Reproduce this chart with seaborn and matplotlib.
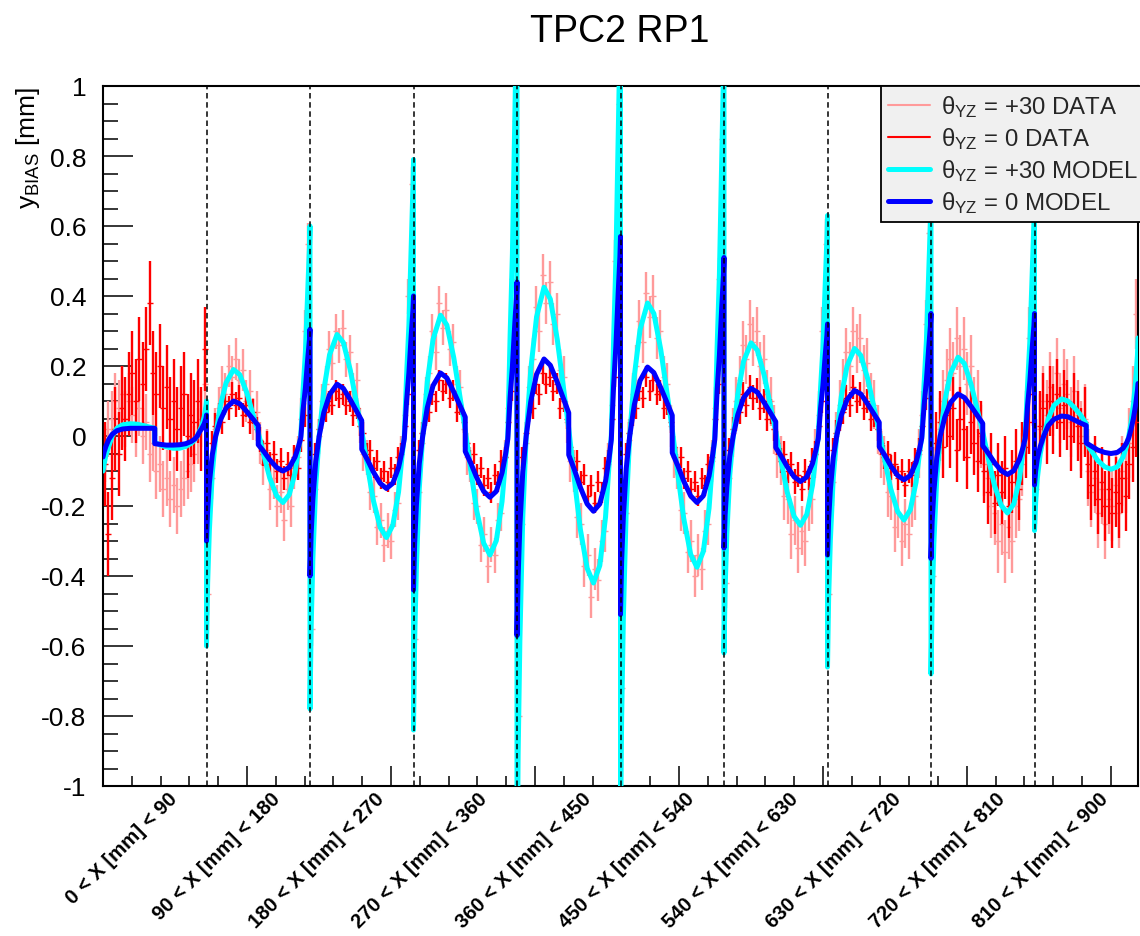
import numpy as np
import pandas as pd
import matplotlib
matplotlib.use("Agg")
import matplotlib.pyplot as plt
import seaborn as sns
from matplotlib.ticker import MultipleLocator, FuncFormatter
from matplotlib.lines import Line2D

# ---------------- data ----------------
SEG_LABELS = ["0 < X [mm] < 90", "90 < X [mm] < 180", "180 < X [mm] < 270",
              "270 < X [mm] < 360", "360 < X [mm] < 450", "450 < X [mm] < 540",
              "540 < X [mm] < 630", "630 < X [mm] < 720", "720 < X [mm] < 810",
              "810 < X [mm] < 900"]
SEG_STARTS = [0, 90, 180, 270, 360, 450, 540, 630, 720, 810]
BOUNDARIES = [90, 180, 270, 360, 450, 540, 630, 720, 810]

# model node positions inside one 90 mm segment
MODEL_U = [0, 1, 2.5, 5, 8, 12, 17, 23.5, 29, 35, 40, 45, 45, 50, 55, 61, 66.5,
           72, 77, 80, 82, 84, 86, 88, 89.5, 90]

blue_s0 = [-0.06, -0.045, -0.03, -0.01, 0.005, 0.015, 0.02, 0.022, 0.022, 0.022, 0.022, 0.022, -0.022, -0.024, -0.026, -0.026, -0.025, -0.022, -0.015, -0.008, 0.0, 0.012, 0.022, 0.035, 0.05, 0.06]
blue_s1 = [-0.30, -0.21, -0.135, -0.054, 0.0, 0.045, 0.08, 0.10, 0.092, 0.07, 0.05, 0.03, -0.025, -0.045, -0.068, -0.09, -0.10, -0.09, -0.06, -0.03, -0.005, 0.076, 0.137, 0.22, 0.275, 0.305]
blue_s2 = [-0.40, -0.28, -0.18, -0.072, 0.0, 0.067, 0.118, 0.148, 0.136, 0.104, 0.074, 0.044, -0.038, -0.068, -0.102, -0.135, -0.15, -0.135, -0.09, -0.045, -0.008, 0.10, 0.18, 0.288, 0.36, 0.40]
blue_s3 = [-0.44, -0.308, -0.198, -0.079, 0.0, 0.081, 0.144, 0.18, 0.166, 0.126, 0.09, 0.054, -0.044, -0.079, -0.119, -0.158, -0.175, -0.158, -0.105, -0.053, -0.009, 0.11, 0.198, 0.317, 0.396, 0.44]
blue_s4 = [-0.57, -0.40, -0.257, -0.103, 0.0, 0.099, 0.176, 0.22, 0.202, 0.154, 0.11, 0.066, -0.054, -0.097, -0.146, -0.194, -0.215, -0.194, -0.129, -0.065, -0.011, 0.143, 0.257, 0.41, 0.513, 0.57]
blue_s5 = [-0.51, -0.357, -0.23, -0.092, 0.0, 0.089, 0.158, 0.197, 0.181, 0.138, 0.099, 0.059, -0.048, -0.086, -0.129, -0.171, -0.19, -0.171, -0.114, -0.057, -0.01, 0.128, 0.23, 0.367, 0.459, 0.51]
blue_s6 = [-0.32, -0.224, -0.144, -0.058, 0.0, 0.061, 0.109, 0.136, 0.125, 0.095, 0.068, 0.041, -0.033, -0.059, -0.088, -0.117, -0.13, -0.117, -0.078, -0.039, -0.007, 0.08, 0.144, 0.23, 0.288, 0.32]
blue_s7 = [-0.34, -0.238, -0.153, -0.061, 0.0, 0.059, 0.104, 0.13, 0.12, 0.091, 0.065, 0.039, -0.031, -0.056, -0.085, -0.113, -0.125, -0.113, -0.075, -0.038, -0.006, 0.088, 0.158, 0.252, 0.315, 0.35]
blue_s8 = [-0.35, -0.245, -0.158, -0.063, 0.0, 0.054, 0.096, 0.12, 0.11, 0.084, 0.06, 0.036, -0.028, -0.05, -0.075, -0.099, -0.11, -0.099, -0.066, -0.033, -0.006, 0.088, 0.158, 0.252, 0.315, 0.35]
blue_s9 = [-0.14, -0.10, -0.065, -0.03, 0.0, 0.03, 0.048, 0.057, 0.055, 0.045, 0.037, 0.03, -0.02, -0.03, -0.04, -0.047, -0.05, -0.047, -0.035, -0.02, -0.005, 0.02, 0.05, 0.09, 0.13, 0.15]

cyan_s0 = [-0.10, -0.08, -0.055, -0.03, 0.0, 0.022, 0.032, 0.035, 0.034, 0.03, 0.026, 0.022, -0.018, -0.026, -0.031, -0.035, -0.035, -0.03, -0.02, -0.01, 0.0, 0.015, 0.03, 0.055, 0.085, 0.10]
cyan_s1 = [-0.60, -0.42, -0.27, -0.108, 0.0, 0.086, 0.152, 0.19, 0.175, 0.124, 0.067, 0.01, 0.01, -0.057, -0.12, -0.171, -0.19, -0.167, -0.105, -0.038, 0.0, 0.132, 0.24, 0.408, 0.54, 0.60]
cyan_s2 = [-0.78, -0.546, -0.351, -0.14, 0.0, 0.131, 0.232, 0.29, 0.267, 0.189, 0.102, 0.015, 0.015, -0.087, -0.183, -0.261, -0.29, -0.255, -0.16, -0.058, 0.0, 0.174, 0.316, 0.537, 0.711, 0.79]
cyan_s3 = [-0.84, -0.588, -0.378, -0.151, 0.0, 0.155, 0.276, 0.345, 0.317, 0.224, 0.121, 0.017, 0.017, -0.102, -0.214, -0.306, -0.34, -0.299, -0.187, -0.068, 0.0, 0.286, 0.52, 0.884, 1.17, 1.3]
cyan_s4 = [-1.3, -0.91, -0.585, -0.234, 0.0, 0.191, 0.34, 0.425, 0.391, 0.276, 0.149, 0.021, 0.021, -0.126, -0.265, -0.378, -0.42, -0.37, -0.231, -0.084, 0.0, 0.275, 0.5, 0.85, 1.125, 1.25]
cyan_s5 = [-1.15, -0.805, -0.518, -0.207, 0.0, 0.171, 0.304, 0.38, 0.35, 0.247, 0.133, 0.019, 0.019, -0.113, -0.236, -0.338, -0.375, -0.33, -0.206, -0.075, 0.0, 0.253, 0.46, 0.782, 1.035, 1.15]
cyan_s6 = [-0.62, -0.434, -0.279, -0.112, 0.0, 0.12, 0.213, 0.266, 0.245, 0.173, 0.093, 0.013, 0.013, -0.077, -0.161, -0.23, -0.255, -0.224, -0.14, -0.051, 0.0, 0.139, 0.252, 0.428, 0.567, 0.63]
cyan_s7 = [-0.66, -0.462, -0.297, -0.119, 0.0, 0.113, 0.2, 0.25, 0.23, 0.163, 0.088, 0.013, 0.013, -0.072, -0.151, -0.216, -0.24, -0.211, -0.132, -0.048, 0.0, 0.15, 0.272, 0.462, 0.612, 0.68]
cyan_s8 = [-0.68, -0.476, -0.306, -0.122, 0.0, 0.101, 0.18, 0.225, 0.207, 0.146, 0.079, 0.011, 0.011, -0.066, -0.139, -0.198, -0.22, -0.194, -0.121, -0.044, 0.0, 0.15, 0.272, 0.462, 0.612, 0.68]
cyan_s9 = [-0.27, -0.19, -0.12, -0.05, 0.0, 0.05, 0.088, 0.106, 0.1, 0.08, 0.06, 0.035, -0.02, -0.045, -0.07, -0.088, -0.095, -0.088, -0.06, -0.03, 0.0, 0.04, 0.09, 0.16, 0.23, 0.28]

# data bin centres inside one segment
DATA_U = [1.5, 4.5, 7.5, 10.5, 13.5, 16.5, 19.5, 22.5, 25.5, 28.5, 31.5, 34.5, 37.5, 40.5, 43.5,
          46.5, 49.5, 52.5, 55.5, 58.5, 61.5, 64.5, 67.5, 70.5, 73.5, 76.5, 79.5, 82.5, 85.5, 88.5]

red_s0 = [-0.08, -0.28, -0.12, 0.02, -0.05, 0.08, 0.05, 0.12, 0.18, 0.10, 0.22, 0.15, 0.25, 0.38, 0.18, 0.12, 0.20, 0.08, 0.14, 0.05, 0.10, 0.02, 0.08, 0.12, 0.0, 0.06, 0.04, 0.10, 0.02, 0.25]
red_s1 = [-0.12, -0.02, 0.03, 0.06, 0.04, 0.10, 0.08, 0.12, 0.09, 0.11, 0.06, 0.09, 0.04, 0.07, 0.02, -0.01, -0.05, -0.02, -0.08, -0.05, -0.10, -0.07, -0.12, -0.08, -0.11, -0.06, -0.09, -0.01, 0.06, 0.20]
red_s2 = [-0.16, -0.05, 0.02, 0.05, 0.07, 0.10, 0.09, 0.13, 0.11, 0.12, 0.09, 0.10, 0.06, 0.08, 0.03, 0.01, -0.05, -0.04, -0.09, -0.07, -0.12, -0.10, -0.13, -0.09, -0.11, -0.06, -0.05, 0.03, 0.12, 0.25]
red_s3 = [-0.18, -0.04, 0.01, 0.06, 0.07, 0.12, 0.10, 0.16, 0.13, 0.15, 0.11, 0.13, 0.07, 0.09, 0.04, -0.02, -0.07, -0.05, -0.11, -0.09, -0.14, -0.12, -0.16, -0.11, -0.13, -0.07, -0.06, 0.04, 0.13, 0.28]
red_s4 = [-0.22, -0.06, 0.01, 0.07, 0.08, 0.15, 0.12, 0.18, 0.15, 0.17, 0.13, 0.15, 0.08, 0.10, 0.05, -0.03, -0.09, -0.07, -0.13, -0.11, -0.17, -0.14, -0.19, -0.13, -0.16, -0.09, -0.07, 0.05, 0.17, 0.36]
red_s5 = [-0.20, -0.05, 0.01, 0.06, 0.08, 0.13, 0.11, 0.17, 0.13, 0.16, 0.12, 0.13, 0.08, 0.09, 0.04, -0.03, -0.08, -0.06, -0.12, -0.10, -0.15, -0.13, -0.17, -0.12, -0.14, -0.08, -0.06, 0.05, 0.15, 0.32]
red_s6 = [-0.14, -0.04, 0.02, 0.05, 0.07, 0.12, 0.09, 0.14, 0.11, 0.13, 0.08, 0.10, 0.05, 0.07, 0.02, -0.02, -0.07, -0.05, -0.10, -0.08, -0.13, -0.11, -0.15, -0.10, -0.12, -0.07, -0.05, 0.03, 0.10, 0.20]
red_s7 = [-0.15, -0.04, 0.01, 0.05, 0.07, 0.11, 0.09, 0.14, 0.10, 0.12, 0.08, 0.10, 0.05, 0.06, 0.02, -0.02, -0.06, -0.05, -0.09, -0.08, -0.12, -0.10, -0.14, -0.10, -0.11, -0.07, -0.04, 0.03, 0.11, 0.22]
red_s8 = [-0.12, -0.02, 0.04, -0.03, 0.06, 0.0, 0.08, -0.04, 0.05, 0.02, -0.06, 0.04, -0.02, -0.07, 0.01, -0.10, -0.16, -0.08, -0.19, -0.11, -0.16, -0.09, -0.20, -0.13, -0.07, -0.15, -0.05, -0.03, 0.04, 0.12]
red_s9 = [-0.05, 0.03, 0.08, 0.02, 0.10, 0.05, 0.12, 0.04, 0.09, 0.06, 0.0, 0.08, 0.03, -0.02, 0.04, -0.08, -0.14, -0.10, -0.18, -0.13, -0.20, -0.15, -0.22, -0.16, -0.19, -0.12, -0.17, -0.08, -0.03, 0.04]

pink_s0 = [-0.05, 0.02, 0.05, 0.10, 0.08, 0.12, 0.05, 0.10, 0.06, 0.02, 0.08, 0.0, 0.04, -0.05, -0.02, -0.10, -0.08, -0.15, -0.12, -0.18, -0.14, -0.20, -0.15, -0.12, -0.10, -0.08, -0.05, 0.0, 0.05, 0.15]
pink_s1 = [-0.45, -0.12, 0.02, 0.08, 0.14, 0.12, 0.20, 0.17, 0.22, 0.16, 0.19, 0.10, 0.13, 0.05, 0.07, -0.02, -0.08, -0.04, -0.15, -0.12, -0.20, -0.16, -0.24, -0.15, -0.20, -0.09, -0.06, 0.05, 0.30, 0.55]
pink_s2 = [-0.55, -0.15, 0.0, 0.10, 0.15, 0.25, 0.21, 0.30, 0.26, 0.31, 0.22, 0.24, 0.13, 0.16, 0.03, -0.05, -0.06, -0.16, -0.17, -0.26, -0.24, -0.31, -0.27, -0.30, -0.21, -0.19, -0.05, 0.06, 0.40, 0.72]
pink_s3 = [-0.58, -0.16, -0.02, 0.12, 0.18, 0.30, 0.24, 0.38, 0.31, 0.36, 0.25, 0.27, 0.15, 0.14, 0.02, -0.06, -0.08, -0.19, -0.20, -0.31, -0.28, -0.37, -0.31, -0.34, -0.24, -0.22, -0.06, 0.08, 0.45, 0.90]
pink_s4 = [-0.80, -0.25, -0.02, 0.14, 0.22, 0.37, 0.30, 0.46, 0.38, 0.44, 0.32, 0.35, 0.19, 0.17, 0.04, -0.07, -0.10, -0.23, -0.25, -0.37, -0.34, -0.46, -0.38, -0.41, -0.30, -0.27, -0.08, 0.09, 0.50, 0.95]
pink_s5 = [-0.72, -0.22, -0.01, 0.12, 0.20, 0.33, 0.27, 0.41, 0.34, 0.40, 0.28, 0.30, 0.17, 0.15, 0.03, -0.06, -0.09, -0.21, -0.22, -0.33, -0.30, -0.40, -0.34, -0.38, -0.27, -0.25, -0.07, 0.08, 0.45, 0.85]
pink_s6 = [-0.42, -0.12, 0.01, 0.10, 0.16, 0.26, 0.22, 0.32, 0.27, 0.30, 0.20, 0.22, 0.12, 0.10, 0.02, -0.05, -0.07, -0.17, -0.18, -0.28, -0.24, -0.32, -0.27, -0.30, -0.20, -0.18, -0.05, 0.06, 0.30, 0.55]
pink_s7 = [-0.45, -0.13, 0.0, 0.09, 0.15, 0.24, 0.20, 0.30, 0.25, 0.28, 0.19, 0.21, 0.11, 0.09, 0.02, -0.05, -0.07, -0.16, -0.17, -0.26, -0.22, -0.30, -0.25, -0.28, -0.19, -0.17, -0.05, 0.06, 0.32, 0.58]
pink_s8 = [-0.40, -0.10, 0.02, 0.10, 0.16, 0.22, 0.18, 0.28, 0.20, 0.25, 0.15, 0.20, 0.08, 0.10, 0.0, -0.08, -0.12, -0.20, -0.22, -0.30, -0.25, -0.33, -0.26, -0.30, -0.20, -0.18, -0.08, 0.04, 0.28, 0.50]
pink_s9 = [-0.15, 0.02, 0.10, 0.06, 0.14, 0.10, 0.18, 0.08, 0.15, 0.12, 0.04, 0.13, 0.06, 0.0, 0.05, -0.10, -0.16, -0.12, -0.22, -0.15, -0.25, -0.18, -0.20, -0.14, -0.22, -0.10, -0.12, -0.02, 0.10, 0.35]

RED_ERR = [0.12, 0.035, 0.03, 0.03, 0.03, 0.03, 0.035, 0.035, 0.09, 0.10]
PINK_ERR = [0.08, 0.06, 0.05, 0.05, 0.06, 0.06, 0.07, 0.07, 0.09, 0.10]

BLUE_SEGS = [blue_s0, blue_s1, blue_s2, blue_s3, blue_s4, blue_s5, blue_s6, blue_s7, blue_s8, blue_s9]
CYAN_SEGS = [cyan_s0, cyan_s1, cyan_s2, cyan_s3, cyan_s4, cyan_s5, cyan_s6, cyan_s7, cyan_s8, cyan_s9]
RED_SEGS = [red_s0, red_s1, red_s2, red_s3, red_s4, red_s5, red_s6, red_s7, red_s8, red_s9]
PINK_SEGS = [pink_s0, pink_s1, pink_s2, pink_s3, pink_s4, pink_s5, pink_s6, pink_s7, pink_s8, pink_s9]

# ---------------- assemble tables ----------------
def model_frame(segs):
    xs, ys = [], []
    for start, vals in zip(SEG_STARTS, segs):
        xs.extend([start + u for u in MODEL_U])
        ys.extend(vals)
    return pd.DataFrame({"x": xs, "y": ys})

def data_frame(segs, errs):
    xs, ys, es = [], [], []
    for start, vals, e in zip(SEG_STARTS, segs, errs):
        xs.extend([start + u for u in DATA_U])
        ys.extend(vals)
        es.extend([e] * len(vals))
    return pd.DataFrame({"x": xs, "y": ys, "err": es})

blue_df = model_frame(BLUE_SEGS)
cyan_df = model_frame(CYAN_SEGS)
red_df = data_frame(RED_SEGS, RED_ERR)
pink_df = data_frame(PINK_SEGS, PINK_ERR)

# ---------------- style ----------------
sns.set_theme(style="white")
plt.rcParams["font.family"] = ["Liberation Sans", "DejaVu Sans"]
plt.rcParams["mathtext.fontset"] = "custom"
plt.rcParams["mathtext.rm"] = "Liberation Sans"
plt.rcParams["mathtext.it"] = "Liberation Sans:italic"
plt.rcParams["mathtext.bf"] = "Liberation Sans:bold"

PINK = "#ff9a9a"
RED = "#ff0000"
CYAN = "#00ffff"
BLUE = "#0000ff"

fig = plt.figure(figsize=(11.4, 9.37), dpi=100)
ax = fig.add_axes([103 / 1140, 150 / 937, 1035 / 1140, 700 / 937])

ax.errorbar(pink_df["x"], pink_df["y"], yerr=pink_df["err"], fmt="_", color=PINK,
            ecolor=PINK, elinewidth=1.7, markersize=4, mew=1.0, zorder=2)
ax.errorbar(red_df["x"], red_df["y"], yerr=red_df["err"], fmt="_", color=RED,
            ecolor=RED, elinewidth=1.7, markersize=4, mew=1.0, zorder=3)

sns.lineplot(data=cyan_df, x="x", y="y", sort=False, estimator=None, color=CYAN,
             linewidth=3.6, ax=ax, zorder=4)
sns.lineplot(data=blue_df, x="x", y="y", sort=False, estimator=None, color=BLUE,
             linewidth=3.6, ax=ax, zorder=5)

for b in BOUNDARIES:
    ax.axvline(b, color="black", linestyle=(0, (3.6, 2.4)), linewidth=1.1, zorder=6)

ax.set_xlim(0, 900)
ax.set_ylim(-1, 1)
ax.set_xlabel("")
ax.set_ylabel("")

ax.xaxis.set_major_locator(MultipleLocator(125.2))
ax.xaxis.set_minor_locator(MultipleLocator(25.04))
ax.yaxis.set_major_locator(MultipleLocator(0.2))
ax.yaxis.set_minor_locator(MultipleLocator(0.05))
ax.yaxis.set_major_formatter(FuncFormatter(lambda v, p: f"{round(v, 2):g}" if abs(v) > 1e-9 else "0"))

ax.tick_params(axis="x", which="major", direction="in", length=14.4, width=1.1,
               bottom=True, top=False, labelbottom=False, color="black")
ax.tick_params(axis="x", which="minor", direction="in", length=7.2, width=1.1,
               bottom=True, top=False, color="black")
ax.tick_params(axis="y", which="major", direction="in", length=21.6, width=1.1,
               left=True, right=False, labelsize=19, pad=12, color="black", labelcolor="black")
ax.tick_params(axis="y", which="minor", direction="in", length=10.8, width=1.1,
               left=True, right=False, color="black")
for s in ax.spines.values():
    s.set_color("black")
    s.set_linewidth(1.5)

# segment labels along bottom
xt = ax.get_xaxis_transform()
for start, lab in zip(SEG_STARTS, SEG_LABELS):
    ax.text(start + 45 + 11, -0.004, lab, transform=xt, rotation=45,
            rotation_mode="anchor", ha="right", va="top", fontsize=14.6,
            fontweight="bold", color="black")

# title and y label
fig.text(620 / 1140, 1 - 42 / 937, "TPC2 RP1", ha="center", va="baseline",
         fontsize=27, color="black")
fig.text(28 / 1140, 1 - 87 / 937, r"$\mathregular{y_{BIAS}}$ [mm]", rotation=90,
         ha="center", va="top", fontsize=19, color="black")

# legend
handles = [Line2D([], [], color=PINK, lw=1.5), Line2D([], [], color=RED, lw=1.5),
           Line2D([], [], color=CYAN, lw=3.6), Line2D([], [], color=BLUE, lw=3.6)]
labels = [r"θ$_{\mathregular{YZ}}$ = +30 DATA", r"θ$_{\mathregular{YZ}}$ = 0 DATA",
          r"θ$_{\mathregular{YZ}}$ = +30 MODEL", r"θ$_{\mathregular{YZ}}$ = 0 MODEL"]
leg = ax.legend(handles, labels, loc="upper left", bbox_to_anchor=(881 / 1140, 1 - 87 / 937),
                bbox_transform=fig.transFigure, borderaxespad=0, fontsize=17.3,
                frameon=True, fancybox=False, framealpha=1, facecolor="#f0f0f0",
                edgecolor="black", handlelength=1.75, handletextpad=0.45,
                labelspacing=0.25, borderpad=0.3)
leg.get_frame().set_linewidth(1.3)
leg.set_zorder(10)

fig.savefig("out.png", dpi=100)
